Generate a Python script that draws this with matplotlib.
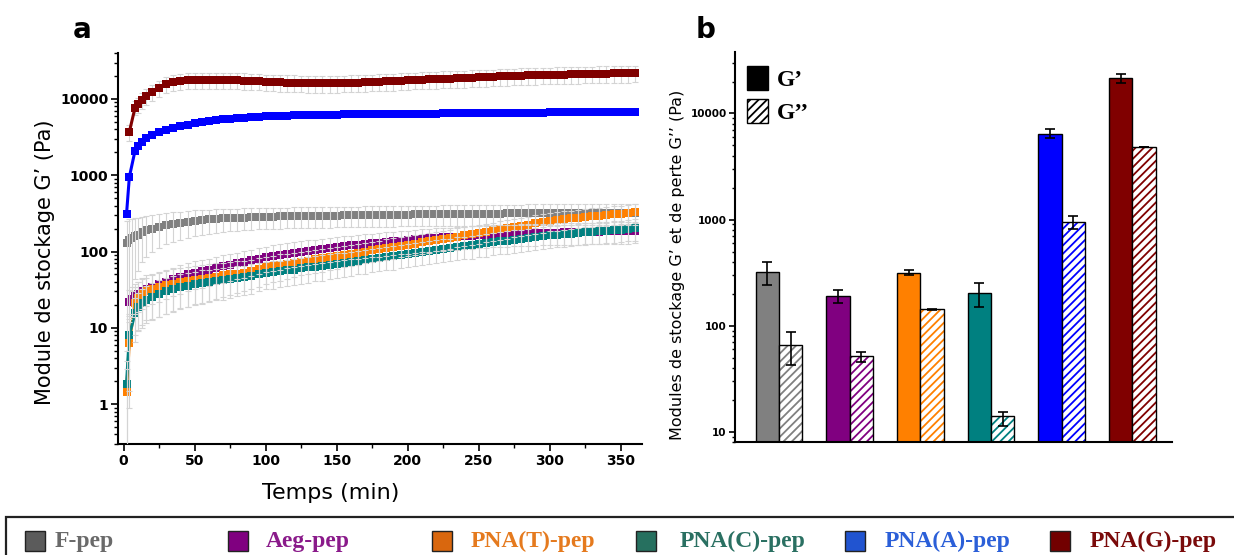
import numpy as np
import matplotlib.pyplot as plt
from matplotlib.patches import Patch, Rectangle
from matplotlib.ticker import LogLocator, NullFormatter, MultipleLocator

plt.rcParams['font.family'] = ['DejaVu Sans']
plt.rcParams['hatch.linewidth'] = 1.3

nan = np.nan

# ---- panel a : G' (Pa) against time (min) ----
time = [2, 4, 6, 8, 10, 13, 16] + list(range(20, 361, 5))

f_pep = [130, 140, 150, 158, 165, 178, 190, 200,
         212, 222, 230, 238, 245, 252, 258, 263, 267, 271,
         274, 277, 279, 282, 284, 286, 287, 288, 289, 290,
         291, 292, 293, 294, 295, 296, 297, 298, 299, 300,
         301, 302, 302, 303, 304, 305, 306, 307, 307, 308,
         309, 310, 311, 312, 312, 313, 314, 315, 315, 316,
         317, 317, 318, 318, 319, 319, 320, 320, 320, 321,
         321, 321, 321, 322, 322, 322, 322, 322]
f_pep_err = [125, 125, 120, 115, 110, 105, 105, 100,
             100, 98, 96, 95, 94, 93, 92, 91, 90, 90,
             90, 89, 89, 88, 88, 88, 88, 88, 88, 88,
             88, 88, 88, 89, 89, 89, 89, 90, 90, 90,
             90, 90, 91, 91, 91, 92, 92, 92, 92, 93,
             93, 93, 93, 94, 94, 94, 94, 95, 95, 95,
             95, 95, 96, 96, 96, 96, 96, 96, 96, 97,
             97, 97, 97, 97, 97, 97, 97, 97]

aeg_pep = [nan, 22, 24, 26, 28, 30.5, 32.5, 34.5,
           37, 40, 43.5, 47, 50, 53, 55.5, 58, 61, 64,
           67, 70, 73, 77, 81, 85, 88, 91, 94, 97,
           100, 103, 106, 109, 112, 115, 118, 120, 123, 125,
           128, 130, 133, 136, 139, 141, 144, 147, 149, 151,
           153, 155, 157, 159, 161, 163, 165, 166, 168, 169,
           171, 172, 173, 174, 175, 176, 177, 178, 179, 180,
           181, 182, 182, 183, 184, 184, 185, 186]
aeg_pep_err = [nan, 9, 10, 11, 12, 13, 13, 14,
               15, 16, 17, 19, 20, 21, 22, 23, 24, 25,
               26, 27, 28, 29, 30, 31, 32, 33, 34, 35,
               36, 37, 37, 38, 39, 40, 41, 41, 42, 43,
               44, 44, 45, 46, 47, 47, 48, 49, 49, 50,
               50, 51, 51, 52, 52, 53, 53, 53, 54, 54,
               54, 55, 55, 55, 55, 56, 56, 56, 56, 57,
               57, 57, 57, 57, 58, 58, 58, 58]

pna_t = [1.45, 6.4, nan, 21, 24.5, 28, 30.5, 32,
         34, 36, 37.5, 39.5, 41, 42.5, 44, 45.5, 47, 48.5,
         50, 51.5, 53, 55.5, 58.5, 62, 64, 66.5, 69, 71,
         73.5, 76, 79, 81.5, 84.5, 87.5, 90.5, 93.5, 97, 100,
         104, 107, 111, 115, 119, 123, 127, 132, 136, 141,
         146, 151, 157, 163, 169, 175, 182, 189, 196, 203,
         210, 218, 226, 234, 242, 250, 257, 264, 271, 278,
         284, 290, 296, 302, 308, 314, 320, 326]
pna_t_err = [1.4, 5.5, nan, 13, 15, 17, 18, 19,
             20, 21, 21, 22, 22, 22, 23, 23, 23, 23,
             23, 23, 23, 23, 24, 24, 24, 25, 25, 25,
             25, 26, 26, 27, 27, 28, 28, 29, 30, 30,
             31, 32, 33, 34, 35, 36, 37, 38, 39, 40,
             41, 42, 44, 45, 46, 48, 49, 51, 53, 55,
             57, 59, 61, 63, 65, 67, 69, 71, 73, 75,
             77, 79, 81, 83, 85, 86, 88, 90]

pna_c = [1.85, 8.0, nan, 15.5, 19, 21, 23.5, 25.5,
         28, 30, 32, 34, 35.5, 37, 38.5, 40, 41, 42.5,
         43.5, 45, 46, 48, 50, 52, 53.5, 55, 56.5, 58,
         60, 62, 63.5, 65.5, 67.5, 69.5, 71.5, 73.5, 76, 78,
         80.5, 83, 85.5, 88, 90.5, 93, 96, 99, 102, 105,
         108, 111, 115, 118, 121, 125, 128, 132, 136, 139,
         143, 147, 151, 155, 159, 163, 166, 169, 172, 175,
         178, 181, 184, 187, 190, 194, 198, 202]
pna_c_err = [1.8, 6.5, nan, 9, 10, 11, 12, 13,
             14, 15, 16, 16, 17, 17, 18, 18, 18, 19,
             19, 19, 19, 20, 20, 20, 21, 21, 21, 22,
             22, 23, 23, 24, 24, 25, 25, 26, 26, 27,
             27, 28, 29, 30, 30, 31, 32, 33, 34, 35,
             36, 37, 38, 39, 40, 41, 42, 43, 44, 45,
             46, 47, 48, 49, 50, 51, 52, 53, 54, 55,
             56, 57, 58, 59, 60, 61, 62, 63]

pna_a = [310, 950, nan, 2100, 2450, 2750, 3050, 3350,
         3700, 3950, 4150, 4400, 4600, 4800, 4950, 5100, 5250, 5400,
         5500, 5600, 5700, 5800, 5850, 5900, 5950, 6000, 6050, 6080,
         6110, 6140, 6170, 6200, 6220, 6240, 6260, 6280, 6290, 6300,
         6310, 6320, 6330, 6340, 6360, 6380, 6400, 6410, 6420, 6440,
         6450, 6470, 6480, 6500, 6510, 6520, 6540, 6550, 6560, 6580,
         6590, 6600, 6610, 6620, 6640, 6650, 6660, 6670, 6680, 6690,
         6700, 6710, 6720, 6730, 6740, 6750, 6760, 6770]
pna_a_err = [20, 60, nan, 130, 150, 160, 170, 180,
             190, 200, 210, 220, 230, 240, 240, 250, 250, 260,
             260, 260, 260, 260, 270, 270, 270, 270, 270, 270,
             270, 270, 280, 280, 280, 280, 280, 280, 280, 280,
             280, 280, 280, 280, 290, 290, 290, 290, 290, 290,
             290, 290, 290, 290, 290, 290, 290, 290, 290, 300,
             300, 300, 300, 300, 300, 300, 300, 300, 300, 300,
             300, 300, 300, 300, 300, 300, 300, 300]

pna_g = [nan, 3700, nan, 7700, 8500, 9600, 10900, 12400,
         14000, 15500, 16500, 17100, 17500, 17700, 17800, 17800, 17800, 17800,
         17700, 17600, 17400, 17200, 17000, 16800, 16700, 16500, 16400, 16300,
         16200, 16100, 16100, 16100, 16100, 16100, 16200, 16300, 16400, 16500,
         16700, 16800, 17000, 17100, 17300, 17500, 17700, 17900, 18000, 18200,
         18400, 18500, 18600, 18800, 19000, 19200, 19300, 19500, 19700, 19800,
         20000, 20200, 20300, 20500, 20600, 20700, 20800, 20900, 21000, 21100,
         21200, 21300, 21400, 21500, 21600, 21700, 21800, 21900]
pna_g_err = [nan, 900, nan, 1600, 1900, 2200, 2500, 2900,
             3300, 3700, 3900, 4100, 4200, 4300, 4300, 4300, 4300, 4300,
             4300, 4300, 4200, 4200, 4100, 4100, 4100, 4000, 4000, 4000,
             4000, 4000, 4000, 4000, 4000, 4000, 4000, 4000, 4000, 4100,
             4100, 4200, 4200, 4300, 4300, 4400, 4400, 4500, 4500, 4500,
             4600, 4600, 4600, 4700, 4700, 4800, 4800, 4800, 4900, 4900,
             5000, 5000, 5000, 5100, 5100, 5100, 5100, 5200, 5200, 5200,
             5200, 5300, 5300, 5300, 5300, 5400, 5400, 5400]

# ---- panel b : mean G' and G'' (Pa) ----
samples = ['F-pep', 'Aeg-pep', 'PNA(T)-pep', 'PNA(C)-pep', 'PNA(A)-pep', 'PNA(G)-pep']
g_store = [320, 190, 315, 200, 6470, 21400]
g_store_err = [78, 27, 17, 50, 600, 2150]
g_loss = [65, 51, 142, 13.2, 950, 4880]
g_loss_err = [22, 6, 3, 2, 130, 0]

line_colors = ['#808080', '#800080', '#ff8000', '#008080', '#0000ff', '#800000']
key_colors = ['#5b5b5b', '#800080', '#d9670e', '#26705f', '#2154d0', '#720000']
key_text = ['#6a6a6a', '#8a1a8a', '#e57a1e', '#2a7062', '#2b5fd8', '#7a0a0a']

series = [f_pep, aeg_pep, pna_t, pna_c, pna_a, pna_g]
series_err = [f_pep_err, aeg_pep_err, pna_t_err, pna_c_err, pna_a_err, pna_g_err]

W, H = 1234, 555
fig = plt.figure(figsize=(W / 100, H / 100), dpi=100)

def px_axes(l, t, r, b):
    return fig.add_axes([l / W, 1 - b / H, (r - l) / W, (b - t) / H])

def log_ticks(ax, size, length):
    ax.set_yscale('log')
    ax.yaxis.set_major_locator(LogLocator(base=10))
    ax.yaxis.set_minor_locator(LogLocator(base=10, subs=np.arange(2, 10)))
    ax.yaxis.set_minor_formatter(NullFormatter())
    ax.yaxis.set_major_formatter(lambda v, p: f'{v:.0f}')
    for s in ['top', 'right']:
        ax.spines[s].set_visible(False)
    for s in ['left', 'bottom']:
        ax.spines[s].set_linewidth(1.5)
    ax.tick_params(axis='both', which='major', direction='out', length=length, width=1.2,
                   labelsize=size, pad=2)
    ax.tick_params(axis='both', which='minor', direction='out', length=length * 0.55, width=1)

# ---- a ----
ax = px_axes(118, 53, 642, 444)
t = np.array(time, dtype=float)
for i, (vals, errs, c) in enumerate(zip(series, series_err, line_colors)):
    v = np.array(vals, dtype=float)
    e = np.array(errs, dtype=float)
    ok = ~np.isnan(v)
    ax.errorbar(t[ok], v[ok], yerr=e[ok], fmt='none', ecolor='#d4d4d4', elinewidth=0.8,
                capsize=2.2, capthick=0.8, zorder=3 if i < 4 else 1)
    ax.plot(t[ok], v[ok], color=c, lw=2.2, marker='s', ms=6.2, mew=0, zorder=2 + i * 0.01)

ax.set_xlim(-4, 365)
ax.set_ylim(0.3, 40000)
log_ticks(ax, 10, 5)
ax.xaxis.set_major_locator(MultipleLocator(50))
ax.xaxis.set_minor_locator(MultipleLocator(25))
for lab in ax.get_yticklabels() + ax.get_xticklabels():
    lab.set_fontweight('bold')
ax.set_xlabel('Temps (min)', fontsize=16)
ax.xaxis.set_label_coords(0.405, -0.10)
ax.set_ylabel('Module de stockage G\u2019 (Pa)', fontsize=15)
ax.yaxis.set_label_coords(-0.12, 0.465)

# ---- b ----
bx = px_axes(735, 52, 1172, 442)
x = np.arange(len(samples))
w = 0.33
bx.bar(x - w / 2, g_store, w, bottom=1, color=line_colors, edgecolor='black', lw=1, zorder=2)
bx.bar(x + w / 2, g_loss, w, bottom=1, facecolor='white', edgecolor=line_colors, hatch='////',
       lw=0, zorder=2)
bx.bar(x + w / 2, g_loss, w, bottom=1, fill=False, edgecolor='black', lw=1, zorder=3)
bx.errorbar(x - w / 2, g_store, yerr=g_store_err, fmt='none', ecolor='black', elinewidth=1.2,
            capsize=3.5, capthick=1.2, zorder=4)
bx.errorbar(x + w / 2, g_loss, yerr=g_loss_err, fmt='none', ecolor='black', elinewidth=1.2,
            capsize=3.5, capthick=1.2, zorder=4)
bx.set_xlim(-0.62, 5.56)
bx.set_ylim(8, 38000)
log_ticks(bx, 7.5, 4)
for lab in bx.get_yticklabels():
    lab.set_fontweight('bold')
bx.set_xticks([])
bx.set_ylabel('Modules de stockage G\u2019 et de perte G\u2019\u2019 (Pa)', fontsize=11.5)
bx.yaxis.set_label_coords(-0.115, 0.454)
handles = [Patch(facecolor='black', edgecolor='black'),
           Patch(facecolor='white', edgecolor='black', hatch='////')]
bx.legend(handles, ['G\u2019', 'G\u2019\u2019'], loc='upper left', bbox_to_anchor=(-0.005, 1.0),
          frameon=False, prop={'family': 'Liberation Serif', 'weight': 'bold', 'size': 17},
          handlelength=0.9, handleheight=1.15, handletextpad=0.35, labelspacing=0.35,
          borderaxespad=0.2)

fig.text(82 / W, 1 - 30 / H, 'a', fontsize=20, weight='bold', ha='center', va='center')
fig.text(706 / W, 1 - 30 / H, 'b', fontsize=20, weight='bold', ha='center', va='center')

# ---- bottom key ----
fig.add_artist(Rectangle((6 / W, -0.02), (W + 10) / W, (0.02 + 1 - 517 / H), transform=fig.transFigure,
                         fill=False, edgecolor='#222222', lw=1.6))
key_sq_x = [25, 228, 432, 636, 845, 1050]
key_tx_x = [55, 266, 471, 680, 885, 1090]
for name, sx, tx, c, tc in zip(samples, key_sq_x, key_tx_x, key_colors, key_text):
    fig.add_artist(Rectangle((sx / W, 1 - 551 / H), 20 / W, 20 / H, transform=fig.transFigure,
                             facecolor=c, edgecolor='#222222', lw=1))
    fig.text(tx / W, 1 - 541 / H, name, color=tc, fontsize=17, weight='bold',
             family='Liberation Serif', ha='left', va='center')

fig.savefig('out.png', dpi=100)
